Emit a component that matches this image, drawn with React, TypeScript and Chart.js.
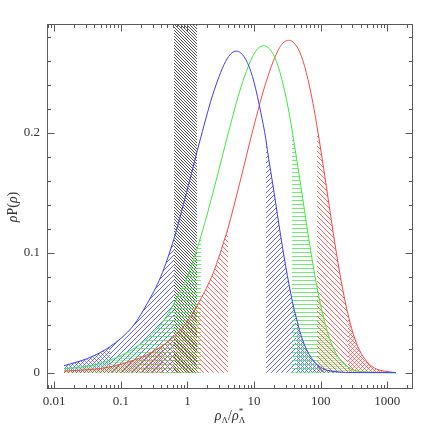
import React, { useEffect, useRef } from "react";
import { Chart, registerables } from "chart.js";

Chart.register(...registerables);

// ---- data ----
const BLUE_X = [0.014, 0.02, 0.0316, 0.05, 0.07, 0.1, 0.158, 0.251, 0.398, 0.63, 1, 1.585, 2.51, 3.98, 5.4, 6.31, 7.94, 10, 12.6, 15, 15.8, 20, 25.1, 31.6, 39.8, 43, 50.1, 63.1, 79.4, 100, 126, 178, 316, 1350];
const BLUE_Y = [0.0058, 0.0082, 0.0118, 0.017, 0.022, 0.0285, 0.04, 0.058, 0.08, 0.112, 0.153, 0.196, 0.235, 0.262, 0.268, 0.2665, 0.2585, 0.242, 0.217, 0.195, 0.186, 0.15, 0.114, 0.081, 0.053, 0.046, 0.032, 0.018, 0.0095, 0.0045, 0.002, 0.0007, 0.0001, 0];

const GREEN_X = [0.014, 0.02, 0.036, 0.0514, 0.0812, 0.1285, 0.18, 0.257, 0.406, 0.645, 1.023, 1.6, 2.57, 4.07, 6.45, 10.2, 13.9, 16.2, 20.4, 25.7, 32.4, 37, 40.6, 51.4, 64.5, 81.2, 95, 128.8, 162, 204, 257, 324, 457, 812, 1350];
const GREEN_Y = [0.0032, 0.0042, 0.0059, 0.0083, 0.012, 0.0173, 0.0224, 0.029, 0.0407, 0.059, 0.0814, 0.114, 0.1556, 0.199, 0.239, 0.2665, 0.2725, 0.271, 0.263, 0.246, 0.221, 0.203, 0.189, 0.1525, 0.116, 0.082, 0.062, 0.0325, 0.0183, 0.0097, 0.0046, 0.002, 0.0007, 0.0001, 0];

const RED_X = [0.014, 0.02, 0.0316, 0.05, 0.0853, 0.122, 0.192, 0.305, 0.43, 0.61, 0.96, 1.53, 2.42, 3.84, 4.0, 6.09, 9.65, 15.3, 24.2, 32.9, 38.4, 48.4, 60.9, 76.7, 87, 96.2, 121.8, 152.9, 192.4, 242, 255, 305, 384, 484, 609, 767, 1084, 1350];
const RED_Y = [0.0013, 0.0018, 0.0025, 0.0035, 0.006, 0.0085, 0.0122, 0.0176, 0.0228, 0.0295, 0.0414, 0.06, 0.0827, 0.1158, 0.119, 0.158, 0.2027, 0.243, 0.271, 0.277, 0.2756, 0.2673, 0.25, 0.2244, 0.207, 0.1923, 0.155, 0.118, 0.0838, 0.0548, 0.0495, 0.0331, 0.0186, 0.0098, 0.0047, 0.0021, 0.0007, 0];

// hatched intervals under each curve: [from, to, kind]  (kind 1 = single hatch, 2 = dense hatch)
const BLUE_BANDS: [number, number, number][] = [[0.014, 0.07, 2], [0.07, 0.63, 1], [15, 43, 1], [43, 1350, 2]];
const GREEN_BANDS: [number, number, number][] = [[0.014, 0.18, 2], [0.18, 1.6, 1], [37, 95, 1], [95, 1350, 2]];
const RED_BANDS: [number, number, number][] = [[0.014, 0.43, 2], [0.43, 4.0, 1], [87, 255, 1], [255, 1350, 2]];

// full-height hatched band
const BAND_X = [0.63, 1.38];

const X_TICKS = [0.01, 0.1, 1, 10, 100, 1000];
const Y_TICKS = [0, 0.1, 0.2];
const X_MIN = 0.0078, X_MAX = 2430;
const Y_MIN = -0.0136, Y_MAX = 0.2906;

function pts(xs: number[], ys: number[]) {
  return xs.map((x, i) => ({ x, y: ys[i] }));
}

type Hatch = { color: string; kinds: string[]; s: number };

// stroke hatch lines over the whole chart area (caller has set the clip)
function strokeHatch(ctx: CanvasRenderingContext2D, a: any, h: Hatch) {
  const H = a.bottom - a.top;
  ctx.strokeStyle = h.color;
  ctx.lineWidth = 1;
  ctx.beginPath();
  for (const k of h.kinds) {
    if (k === "-") {
      for (let y = Math.floor(a.top) + 0.5; y < a.bottom; y += h.s) {
        ctx.moveTo(a.left, y);
        ctx.lineTo(a.right, y);
      }
    } else {
      const start = Math.floor((a.left - H) / h.s) * h.s;
      for (let x = start; x < a.right + H; x += h.s) {
        if (k === "/") {
          ctx.moveTo(x, a.bottom);
          ctx.lineTo(x + H, a.top);
        } else {
          ctx.moveTo(x, a.top);
          ctx.lineTo(x + H, a.bottom);
        }
      }
    }
  }
  ctx.stroke();
}

const framePlugin = {
  id: "frame",
  afterDatasetsDraw(chart: any) {
    const { ctx, chartArea: a, scales } = chart;
    const xs = scales.x, ys = scales.y;
    ctx.save();
    ctx.strokeStyle = "#5a5a5a";
    ctx.lineWidth = 1;
    ctx.strokeRect(Math.round(a.left) + 0.5, Math.round(a.top) + 0.5, Math.round(a.right - a.left) - 1, Math.round(a.bottom - a.top) - 1);
    ctx.beginPath();
    const L = Math.round(a.left) + 0.5, R = Math.round(a.right) - 0.5, T = Math.round(a.top) + 0.5, B = Math.round(a.bottom) - 0.5;
    for (let e = -3; e <= 4; e++) {
      for (let k = 1; k <= 9; k++) {
        const v = k * Math.pow(10, e);
        if (v < X_MIN || v > X_MAX) continue;
        const px = Math.round(xs.getPixelForValue(v)) + 0.5;
        const len = k === 1 ? 7 : 3.5;
        ctx.moveTo(px, B);
        ctx.lineTo(px, B - len);
        ctx.moveTo(px, T);
        ctx.lineTo(px, T + len);
      }
    }
    for (let i = 0; i <= 14; i++) {
      const v = i * 0.02;
      const py = Math.round(ys.getPixelForValue(v)) + 0.5;
      const len = i % 5 === 0 ? 7 : 3.5;
      ctx.moveTo(L, py);
      ctx.lineTo(L + len, py);
      ctx.moveTo(R, py);
      ctx.lineTo(R - len, py);
    }
    ctx.stroke();

    // axis titles
    ctx.fillStyle = "#333";
    ctx.textBaseline = "alphabetic";
    const big = "14px 'Liberation Serif', 'DejaVu Serif', serif";
    const bigI = "italic 14px 'Liberation Serif', 'DejaVu Serif', serif";
    const small = "9px 'Liberation Serif', 'DejaVu Serif', serif";
    const parts: [string, string, number][] = [
      ["ρ", bigI, 0], ["Λ", small, 3], ["/", big, 0], ["ρ", bigI, 0],
    ];
    let w = 0;
    for (const [t, f] of parts) { ctx.font = f; w += ctx.measureText(t).width; }
    ctx.font = small;
    w += ctx.measureText("Λ").width;
    let x0 = (a.left + a.right) / 2 - w / 2;
    const by = 420;
    for (const [t, f, dy] of parts) {
      ctx.font = f;
      ctx.fillText(t, x0, by + dy);
      x0 += ctx.measureText(t).width;
    }
    ctx.font = small;
    ctx.fillText("*", x0, by - 6);
    ctx.fillText("Λ", x0, by + 3);

    ctx.save();
    ctx.translate(17, 207);
    ctx.rotate(-Math.PI / 2);
    const yp: [string, string][] = [["ρ", bigI], ["P(", big], ["ρ", bigI], [")", big]];
    let yw = 0;
    for (const [t, f] of yp) { ctx.font = f; yw += ctx.measureText(t).width; }
    let yx = -yw / 2;
    for (const [t, f] of yp) {
      ctx.font = f;
      ctx.fillText(t, yx, 0);
      yx += ctx.measureText(t).width;
    }
    ctx.restore();
    ctx.restore();
  },
};

export default function App() {
  const ref = useRef<HTMLCanvasElement>(null);
  useEffect(() => {
    const styles: Record<string, Hatch[]> = {
      blue: [
        { color: "rgba(50,50,255,0.75)", kinds: ["/"], s: 5 },
        { color: "rgba(50,50,255,0.6)", kinds: ["/", "\\"], s: 4 },
      ],
      green: [
        { color: "rgba(60,235,60,0.75)", kinds: ["-"], s: 4 },
        { color: "rgba(60,235,60,0.45)", kinds: ["-"], s: 2 },
      ],
      red: [
        { color: "rgba(255,50,50,0.75)", kinds: ["\\"], s: 5 },
        { color: "rgba(255,50,50,0.6)", kinds: ["\\", "/"], s: 4 },
      ],
    };
    const blackHatch: Hatch = { color: "rgba(40,40,40,0.8)", kinds: ["\\"], s: 3 };
    const bandSets: [number, [number, number, number][], Hatch[]][] = [
      [0, BLUE_BANDS, styles.blue],
      [1, GREEN_BANDS, styles.green],
      [2, RED_BANDS, styles.red],
    ];

    const hatchPlugin = {
      id: "hatch",
      beforeDatasetsDraw(chart: any) {
        const { ctx, chartArea: a, scales } = chart;
        const xs = scales.x, ys = scales.y;
        const y0 = ys.getPixelForValue(0);
        // vertical band
        const b0 = Math.round(xs.getPixelForValue(BAND_X[0]));
        const b1 = Math.round(xs.getPixelForValue(BAND_X[1]));
        ctx.save();
        ctx.beginPath();
        ctx.rect(b0, a.top, b1 - b0, Math.round(y0) - a.top);
        ctx.clip();
        strokeHatch(ctx, a, blackHatch);
        ctx.restore();
        // hatched tails below each curve
        for (const [ci, list, hs] of bandSets) {
          const line = chart.getDatasetMeta(ci).dataset;
          if (!line || !line.points || !line.points.length) continue;
          line.updateControlPoints(a, "x");
          const P = line.points;
          for (const [xa, xb, kind] of list) {
            const pa = Math.round(xs.getPixelForValue(xa));
            const pb = Math.round(xs.getPixelForValue(xb));
            ctx.save();
            ctx.beginPath();
            ctx.rect(pa, a.top, pb - pa, a.bottom - a.top);
            ctx.clip();
            ctx.beginPath();
            line.path(ctx);
            ctx.lineTo(P[P.length - 1].x, y0);
            ctx.lineTo(P[0].x, y0);
            ctx.closePath();
            ctx.clip();
            strokeHatch(ctx, a, kind === 1 ? hs[0] : hs[1]);
            ctx.restore();
          }
        }
      },
    };

    const common = { pointRadius: 0, cubicInterpolationMode: "monotone" as const, fill: false };
    const datasets: any[] = [
      { ...common, data: pts(BLUE_X, BLUE_Y), borderColor: "rgb(60,60,255)", borderWidth: 1 },
      { ...common, data: pts(GREEN_X, GREEN_Y), borderColor: "rgb(60,235,60)", borderWidth: 1 },
      { ...common, data: pts(RED_X, RED_Y), borderColor: "rgb(255,70,70)", borderWidth: 1 },
    ];

    const font = { family: "'Liberation Serif', 'DejaVu Serif', serif", size: 13 };
    const chart = new Chart(ref.current!, {
      type: "line",
      data: { datasets },
      options: {
        responsive: false,
        animation: false,
        layout: { padding: { top: 24, right: 23, left: 0, bottom: 0 } },
        plugins: { legend: { display: false }, tooltip: { enabled: false } },
        scales: {
          x: {
            type: "logarithmic",
            min: X_MIN,
            max: X_MAX,
            grid: { display: false, drawTicks: false },
            border: { display: false },
            afterBuildTicks: (s: any) => { s.ticks = X_TICKS.map((value) => ({ value })); },
            afterFit: (s: any) => { s.height = 47; },
            ticks: { font, color: "#333", padding: 5, maxRotation: 0, autoSkip: false, callback: (v: any) => String(v) },
          },
          y: {
            type: "linear",
            min: Y_MIN,
            max: Y_MAX,
            grid: { display: false, drawTicks: false },
            border: { display: false },
            afterBuildTicks: (s: any) => { s.ticks = Y_TICKS.map((value) => ({ value })); },
            afterFit: (s: any) => { s.width = 47; },
            ticks: { font, color: "#333", padding: 7, callback: (v: any) => String(v) },
          },
        },
      } as any,
      plugins: [hatchPlugin, framePlugin],
    });
    return () => chart.destroy();
  }, []);
  return (
    <div style={{ position: "absolute", left: 0, top: 0, width: 436, height: 436, background: "#fff" }}>
      <canvas ref={ref} width={436} height={436} style={{ display: "block" }} />
    </div>
  );
}
